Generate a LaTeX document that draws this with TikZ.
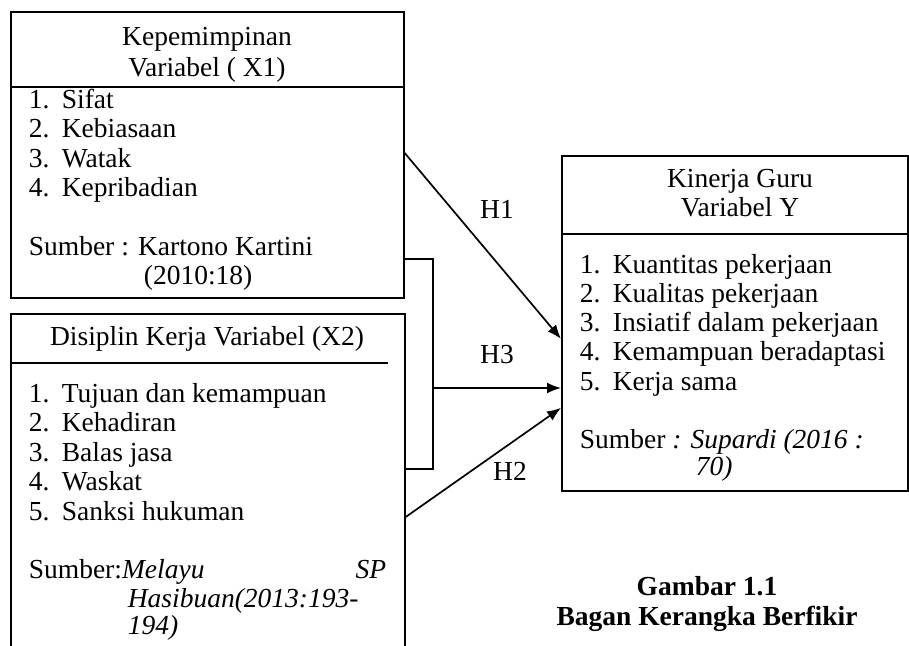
\documentclass[tikz,border=0pt]{standalone}
\usepackage{fontspec}
\setmainfont{Liberation Serif}
\usetikzlibrary{arrows.meta,positioning}

\begin{document}
\begin{tikzpicture}[x=1pt,y=-1pt,line width=1.7pt,
	font=\fontsize{27.5pt}{29.5pt}\selectfont,
	box/.style={draw,rectangle,inner sep=0pt,anchor=north west},
	txt/.style={inner sep=0pt,anchor=base west},
	ctr/.style={inner sep=0pt,anchor=base},
	arr/.style={-{Latex[length=14pt,width=11pt]}}]
	\clip (0,0) rectangle (909,645);

	% kotak variabel
	\node[box,minimum width=393pt,minimum height=286pt] (kep) at (10,11) {};
	\node[box,minimum width=394pt,minimum height=360pt] (dis) at (10,313) {};
	\node[box,minimum width=346pt,minimum height=335pt] (kin) at (561,155) {};

	\draw ([yshift=-76pt]kep.north west) -- ([yshift=-76pt]kep.north east);
	\draw ([yshift=-50pt]dis.north west) -- ++(378,0);
	\draw ([yshift=-79pt]kin.north west) -- ([yshift=-79pt]kin.north east);

	% X1
	\node[ctr] (kepA) at (207,45) {Kepemimpinan};
	\node[ctr] (kepB) at (207,76) {Variabel ( X1)};
	\foreach \t [count=\n] in {Sifat,Kebiasaan,Watak,Kepribadian}
		\node[txt] (kep\n) at (28,{108+29.6*(\n-1)}) {\makebox[33pt][l]{\n.}\t};
	\node[txt] (kepS) at (28,255) {Sumber : Kartono Kartini};
	\node[txt] (kepT) at (143,284) {(2010:18)};

	% X2
	\node[ctr] (disA) at (207,345) {Disiplin Kerja Variabel (X2)};
	\foreach \t [count=\n] in {Tujuan dan kemampuan,Kehadiran,Balas jasa,Waskat,Sanksi hukuman}
		\node[txt] (dis\n) at (28,{402+29.5*(\n-1)}) {\makebox[33pt][l]{\n.}\t};
	\node[txt] (disS) at (28,578) {Sumber:\textit{Melayu}};
	\node[inner sep=0pt,anchor=base east] (disP) at (387,578) {\textit{SP}};
	\node[txt] (disT) at (127,607) {\textit{Hasibuan(2013:193-}};
	\node[txt] (disU) at (127,634) {\textit{194)}};

	% Y
	\node[ctr] (kinA) at (740,187) {Kinerja Guru};
	\node[ctr] (kinB) at (740,216) {Variabel Y};
	\foreach \t [count=\n] in {Kuantitas pekerjaan,Kualitas pekerjaan,Insiatif dalam pekerjaan,Kemampuan beradaptasi,Kerja sama}
		\node[txt] (kin\n) at (579,{273+29.3*(\n-1)}) {\makebox[33pt][l]{\n.}\t};
	\node[txt] (kinS) at (579,448) {Sumber \textit{: Supardi (2016 :}};
	\node[txt] (kinT) at (695,475) {\textit{70)}};

	% hubungan
	\coordinate (j) at (433,388);
	\draw[arr] ([yshift=-142pt]kep.north east) -- ([yshift=-15.5pt]kin.west);
	\draw[arr] ([yshift=-204pt]dis.north east) -- ([yshift=-84.5pt]kin.west);
	\draw ([yshift=-248pt]kep.north east) -| (j) |- ([yshift=-156pt]dis.north east);
	\draw[arr] (j) -- (j -| kin.west);

	\node[ctr] (h1) at (497,218) {H1};
	\node[ctr] (h3) at (497,363) {H3};
	\node[ctr] (h2) at (510,480) {H2};

	\node[ctr,font=\fontsize{27.5pt}{29.5pt}\selectfont\bfseries] (capA) at (707,595) {Gambar 1.1};
	\node[ctr,font=\fontsize{27.5pt}{29.5pt}\selectfont\bfseries] (capB) at (707,625) {Bagan Kerangka Berfikir};
\end{tikzpicture}
\end{document}
